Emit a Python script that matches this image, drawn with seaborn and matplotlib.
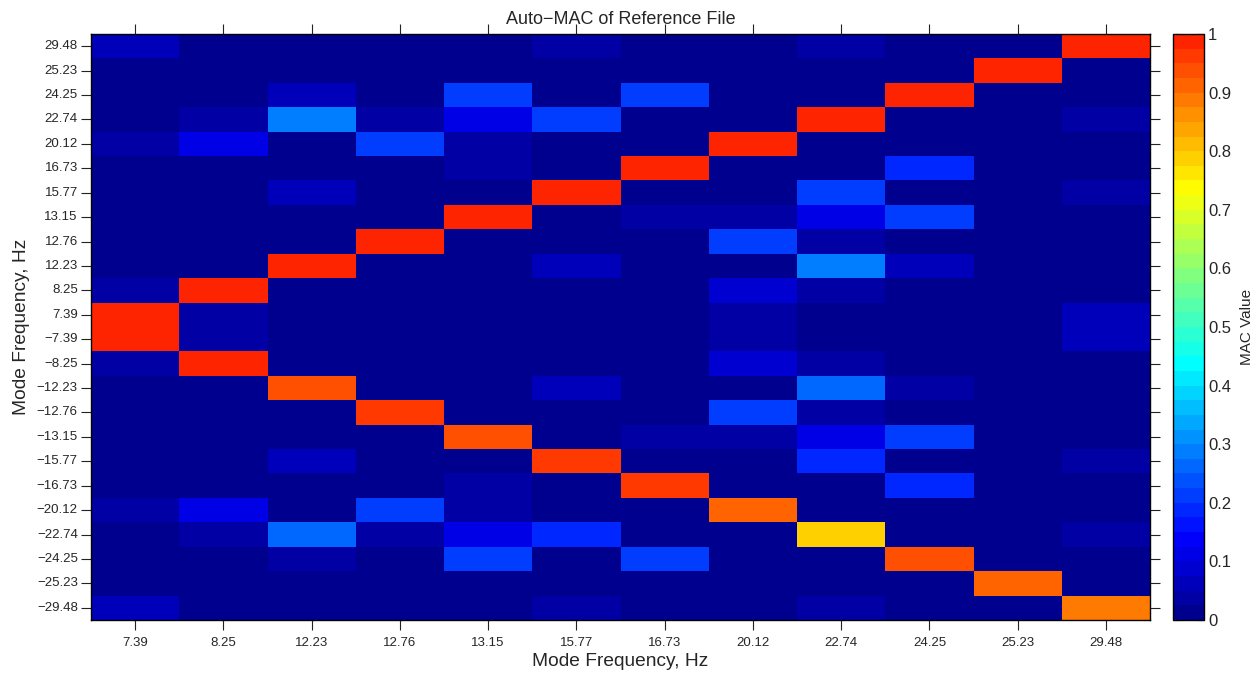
import numpy as np
import matplotlib
matplotlib.use("Agg")
import matplotlib.pyplot as plt
from matplotlib.colors import ListedColormap
import seaborn as sns

sns.set_theme(style="white")
plt.rcParams['font.family'] = ['Liberation Sans', 'DejaVu Sans']

col_labels = ["7.39", "8.25", "12.23", "12.76", "13.15", "15.77",
              "16.73", "20.12", "22.74", "24.25", "25.23", "29.48"]
row_labels = ["29.48", "25.23", "24.25", "22.74", "20.12", "16.73",
              "15.77", "13.15", "12.76", "12.23", "8.25", "7.39",
              "\u22127.39", "\u22128.25", "\u221212.23", "\u221212.76",
              "\u221213.15", "\u221215.77", "\u221216.73", "\u221220.12",
              "\u221222.74", "\u221224.25", "\u221225.23", "\u221229.48"]

mac_values = [
    [0.06, 0.01, 0.01, 0.01, 0.01, 0.035, 0.01, 0.01, 0.035, 0.01, 0.01, 0.99],
    [0.01, 0.01, 0.01, 0.01, 0.01, 0.01, 0.01, 0.01, 0.01, 0.01, 0.99, 0.01],
    [0.01, 0.01, 0.05, 0.01, 0.21, 0.01, 0.21, 0.01, 0.01, 0.99, 0.01, 0.01],
    [0.01, 0.04, 0.29, 0.04, 0.10, 0.21, 0.01, 0.01, 0.99, 0.01, 0.01, 0.04],
    [0.04, 0.10, 0.01, 0.21, 0.04, 0.01, 0.01, 0.99, 0.01, 0.01, 0.01, 0.01],
    [0.01, 0.01, 0.01, 0.01, 0.04, 0.01, 0.99, 0.01, 0.01, 0.195, 0.01, 0.01],
    [0.01, 0.01, 0.05, 0.01, 0.01, 0.99, 0.01, 0.01, 0.21, 0.01, 0.01, 0.04],
    [0.01, 0.01, 0.01, 0.01, 0.99, 0.01, 0.04, 0.04, 0.10, 0.21, 0.01, 0.01],
    [0.01, 0.01, 0.01, 0.99, 0.01, 0.01, 0.01, 0.21, 0.04, 0.01, 0.01, 0.01],
    [0.01, 0.01, 0.99, 0.01, 0.01, 0.05, 0.01, 0.01, 0.285, 0.05, 0.01, 0.01],
    [0.04, 0.99, 0.01, 0.01, 0.01, 0.01, 0.01, 0.09, 0.04, 0.01, 0.01, 0.01],
    [0.99, 0.04, 0.01, 0.01, 0.01, 0.01, 0.01, 0.04, 0.01, 0.01, 0.01, 0.06],
    [0.99, 0.04, 0.01, 0.01, 0.01, 0.01, 0.01, 0.04, 0.01, 0.01, 0.01, 0.06],
    [0.04, 0.99, 0.01, 0.01, 0.01, 0.01, 0.01, 0.09, 0.04, 0.01, 0.01, 0.01],
    [0.01, 0.01, 0.94, 0.01, 0.01, 0.05, 0.01, 0.01, 0.26, 0.04, 0.01, 0.01],
    [0.01, 0.01, 0.01, 0.965, 0.01, 0.01, 0.01, 0.21, 0.04, 0.01, 0.01, 0.01],
    [0.01, 0.01, 0.01, 0.01, 0.94, 0.01, 0.04, 0.04, 0.10, 0.21, 0.01, 0.01],
    [0.01, 0.01, 0.05, 0.01, 0.01, 0.955, 0.01, 0.01, 0.19, 0.01, 0.01, 0.04],
    [0.01, 0.01, 0.01, 0.01, 0.04, 0.01, 0.965, 0.01, 0.01, 0.185, 0.01, 0.01],
    [0.04, 0.10, 0.01, 0.21, 0.04, 0.01, 0.01, 0.915, 0.01, 0.01, 0.01, 0.01],
    [0.01, 0.04, 0.26, 0.04, 0.10, 0.19, 0.01, 0.01, 0.79, 0.01, 0.01, 0.04],
    [0.01, 0.01, 0.04, 0.01, 0.21, 0.01, 0.20, 0.01, 0.01, 0.94, 0.01, 0.01],
    [0.01, 0.01, 0.01, 0.01, 0.01, 0.01, 0.01, 0.01, 0.01, 0.01, 0.915, 0.01],
    [0.06, 0.01, 0.01, 0.01, 0.01, 0.04, 0.01, 0.01, 0.04, 0.01, 0.01, 0.89],
]

cbar_ticks = [0, 0.1, 0.2, 0.3, 0.4, 0.5, 0.6, 0.7, 0.8, 0.9, 1]
cbar_ticklabels = ["0", "0.1", "0.2", "0.3", "0.4", "0.5", "0.6", "0.7", "0.8", "0.9", "1"]

# MATLAB-like jet, truncated before dark red, 40 discrete levels
t = np.linspace(0.0156, 0.84, 40)
r = np.clip(np.minimum(4 * t - 1.5, -4 * t + 4.5), 0, 1)
g = np.clip(np.minimum(4 * t - 0.5, -4 * t + 3.5), 0, 1)
b = np.clip(np.minimum(4 * t + 0.5, -4 * t + 2.5), 0, 1)
cmap = ListedColormap(np.column_stack([r, g, b]))

fig = plt.figure(figsize=(12.57, 6.73), dpi=100)
ax = fig.add_axes([0.0724, 0.0788, 0.8425, 0.8707])
cax = fig.add_axes([0.9332, 0.0788, 0.0247, 0.8707])

sns.heatmap(np.array(mac_values), ax=ax, cmap=cmap, vmin=0, vmax=1,
            cbar_ax=cax, xticklabels=col_labels, yticklabels=row_labels)

for s in ax.spines.values():
    s.set_visible(True)
    s.set_color("black")
    s.set_linewidth(1.0)

ax.tick_params(axis="both", direction="out", length=7.5, width=0.8,
               color="#222222", labelsize=9.5, top=True, right=True,
               bottom=True, left=True, labeltop=False, labelright=False,
               pad=2)
ax.set_yticklabels(row_labels, rotation=0)
ax.set_xticklabels(col_labels, rotation=0)
ax.tick_params(axis="x", pad=5)

ax.set_title("Auto\u2212MAC of Reference File", fontsize=13, pad=7)
ax.set_xlabel("Mode Frequency, Hz", fontsize=13.8, labelpad=3)
ax.set_ylabel("Mode Frequency, Hz", fontsize=13.8, labelpad=5)

cbar = ax.collections[0].colorbar
cbar.set_ticks(cbar_ticks)
cbar.set_ticklabels(cbar_ticklabels)
cbar.outline.set_visible(True)
cbar.outline.set_edgecolor("black")
cbar.outline.set_linewidth(1.0)
cax.tick_params(direction="in", length=5, width=0.8, color="#222222",
                left=True, right=True, labelsize=12, pad=3)
cbar.set_label("MAC Value", fontsize=11, labelpad=6)

fig.savefig("out.png", dpi=100)
